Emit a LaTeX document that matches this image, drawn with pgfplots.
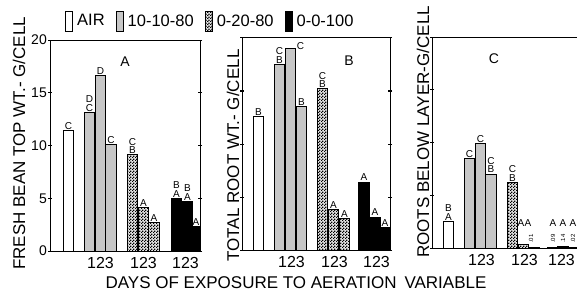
\documentclass[border=0pt]{standalone}
\usepackage{pgfplots}
\pgfplotsset{compat=1.18}
\usepackage{fontspec}
\setmainfont{Liberation Sans}
\usetikzlibrary{patterns}
\pgfdeclarepatternformonly{coarse}{\pgfqpoint{0pt}{0pt}}{\pgfqpoint{3pt}{3pt}}{\pgfqpoint{3pt}{3pt}}{%
  \pgfpathrectangle{\pgfqpoint{0pt}{0pt}}{\pgfqpoint{1.5pt}{1.5pt}}%
  \pgfpathrectangle{\pgfqpoint{1.5pt}{1.5pt}}{\pgfqpoint{1.5pt}{1.5pt}}%
  \pgfusepath{fill}}
\tikzset{
  lbl/.style={anchor=south, font=\fontsize{10}{8.5}\selectfont, inner sep=1pt, align=center},
  tiny/.style={font=\fontsize{6}{6}\selectfont, inner sep=0.5pt, rotate=90},
  air/.style={draw=black, fill=white, line width=1pt},
  sa/.style={draw=black, fill=black!22, line width=1pt},
  sb/.style={draw=black, fill=black!10, postaction={pattern=coarse, pattern color=black}, line width=1pt},
  sc/.style={draw=black, fill=black, line width=1pt},
}
\pgfplotsset{
  panel/.style={
    scale only axis, anchor=south west,
    ymin=0, ymax=20,
    ytick={0,5,10,15,20},
    tick align=center, major tick length=4pt,
    xtick={49.5,92.5,134.5}, xticklabels={123,123,123},
    x tick style={draw=none},
    x tick label style={font=\fontsize{16}{16}\selectfont, inner sep=2pt},
    y tick label style={font=\fontsize{14}{14}\selectfont, inner sep=1pt},
    /pgf/number format/assume math mode=true,
    axis line style={line width=1pt},
    y tick style={line width=1pt, black},
    ybar, bar width=10.7, bar shift=0pt,
  },
}
\begin{document}
\begin{tikzpicture}[x=1pt,y=1pt]
\path[use as bounding box] (0,0) rectangle (577,295);

% Panel A
\begin{axis}[panel, at={(50pt,44pt)}, width=150pt, height=211pt,
  xmin=-1, xmax=149,
  legend style={at={(0.08,1.09)}, anchor=west, draw=none, fill=none,
    legend columns=4, font=\fontsize{16.5}{16.5}\selectfont,
    nodes={inner sep=1pt},
    /tikz/every odd column/.append style={column sep=3pt},
    /tikz/every even column/.append style={column sep=10pt}},
  ]
\addlegendimage{legend image code/.code={\draw[air] (0pt,-10pt) rectangle (7pt,10pt);}}
\addlegendentry{AIR}
\addlegendimage{legend image code/.code={\draw[sa] (0pt,-10pt) rectangle (7pt,10pt);}}
\addlegendentry{10-10-80}
\addlegendimage{legend image code/.code={\draw[sb] (0pt,-10pt) rectangle (7pt,10pt);}}
\addlegendentry{0-20-80}
\addlegendimage{legend image code/.code={\draw[sc] (0pt,-10pt) rectangle (7pt,10pt);}}
\addlegendentry{0-0-100}
\addplot[air, forget plot] coordinates {(17.5,11.4)};
\addplot[sa, forget plot] coordinates {(38.5,13.1) (49.5,16.6) (60,10.1)};
\addplot[sb, forget plot] coordinates {(81.5,9.1) (92.5,4.1) (103,2.7)};
\addplot[sc, forget plot] coordinates {(125.5,5.0) (136.5,4.7) (145,2.3)};
\node[lbl] at (axis cs:17.5,11.4) {C};
\node[lbl] at (axis cs:38.5,13.1) {D\\C};
\node[lbl] at (axis cs:49.5,16.6) {D};
\node[lbl] at (axis cs:60,10.1) {C};
\node[lbl] at (axis cs:81.5,9.1) {C\\B};
\node[lbl] at (axis cs:92.5,4.1) {A};
\node[lbl] at (axis cs:103,2.7) {A};
\node[lbl] at (axis cs:125.5,5.0) {B\\A};
\node[lbl] at (axis cs:136.5,4.7) {B\\A};
\node[lbl] at (axis cs:145,2.3) {A};
\node[font=\fontsize{14}{14}\selectfont] at (axis cs:74,17.9) {A};
\end{axis}

% Panel B
\begin{axis}[panel, at={(242pt,45pt)}, width=148pt, height=212pt,
  xmin=0, xmax=148, yticklabels={}]
\addplot[air] coordinates {(16.5,12.6)};
\addplot[sa] coordinates {(37.5,17.5) (48.5,19.0) (59.5,13.5)};
\addplot[sb] coordinates {(80.5,15.2) (91.5,3.8) (102.5,3.0)};
\addplot[sc] coordinates {(122,6.4) (133,3.1) (143,2.1)};
\node[lbl] at (axis cs:16.5,12.6) {B};
\node[lbl] at (axis cs:37.5,17.5) {C\\B};
\node[lbl, anchor=center] at (axis cs:58.5,19.2) {C};
\node[lbl] at (axis cs:59.5,13.5) {B};
\node[lbl] at (axis cs:80.5,15.2) {C\\B};
\node[lbl] at (axis cs:91.5,3.8) {A};
\node[lbl] at (axis cs:102.5,3.0) {A};
\node[lbl] at (axis cs:122,6.4) {A};
\node[lbl] at (axis cs:133,3.1) {A};
\node[lbl] at (axis cs:143,2.1) {A};
\node[font=\fontsize{14}{14}\selectfont] at (axis cs:107,17.9) {B};
\end{axis}

% Panel C
\begin{axis}[panel, at={(432pt,47pt)}, width=150pt, height=211pt,
  xmin=0, xmax=150, yticklabels={}, xtick={49.5,92.5,129.5}]
\addplot[air] coordinates {(16.5,2.5)};
\addplot[sa] coordinates {(37.5,8.5) (48.5,9.9) (59,7.0)};
\addplot[sb] coordinates {(80.5,6.2) (91.5,0.3) (102,0.01)};
\addplot[sc] coordinates {(121,0.09) (131,0.14) (141,0.02)};
\node[lbl] at (axis cs:16.5,2.5) {B\\A};
\node[lbl] at (axis cs:37.5,8.5) {C};
\node[lbl] at (axis cs:48.5,9.9) {C};
\node[lbl] at (axis cs:59,7.0) {C\\B};
\node[lbl] at (axis cs:80.5,6.2) {C\\B};
\node[lbl] at (axis cs:89,1.9) {A};
\node[lbl] at (axis cs:96,1.9) {A};
\node[tiny] at (axis cs:99,0.9) {.01};
\node[lbl] at (axis cs:121,1.9) {A};
\node[lbl] at (axis cs:131,1.9) {A};
\node[lbl] at (axis cs:141,1.9) {A};
\node[tiny] at (axis cs:121,0.9) {.09};
\node[tiny] at (axis cs:131,0.9) {.14};
\node[tiny] at (axis cs:141,0.9) {.02};
\node[font=\fontsize{14}{14}\selectfont] at (axis cs:62,17.9) {C};
\end{axis}

% axis titles
\node[rotate=90, font=\fontsize{17}{17}\selectfont] at (19,151.5) {FRESH BEAN TOP WT.- G/CELL};
\node[rotate=90, font=\fontsize{17}{17}\selectfont] at (233,139.5) {TOTAL ROOT WT.- G/CELL};
\node[rotate=90, font=\fontsize{17}{17}\selectfont] at (423,163) {ROOTS BELOW LAYER-G/CELL};
\node[font=\fontsize{17}{17}\selectfont] at (296,12) {DAYS OF EXPOSURE TO AERATION\hspace{8pt}VARIABLE};
\end{tikzpicture}
\end{document}
